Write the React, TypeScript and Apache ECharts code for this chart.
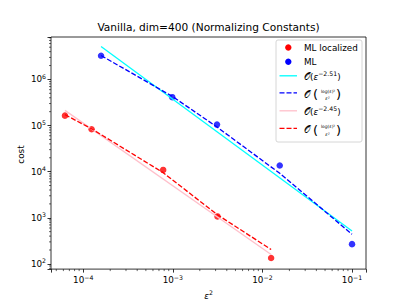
import React, { useEffect, useRef } from "react";
import * as echarts from "echarts";

// ---- data ----
const mlLocX = [6.25e-5, 1.24e-4, 7.8e-4, 3.15e-3, 1.25e-2];
const mlLocY = [1.64e5, 8.3e4, 1.09e4, 1.07e3, 134];
const mlX = [1.58e-4, 9.85e-4, 3.11e-3, 1.56e-2, 0.1];
const mlY = [3.27e6, 4.12e5, 1.05e5, 1.36e4, 268];

const fitMlX = [1.58e-4, 0.1];
const fitMlY = [5.16e6, 519];
const logFitMlY = [3.3e6, 4.3e5, 9.3e4, 9.2e3, 440];

const fitLocX = [6.25e-5, 1.25e-2];
const fitLocY = [2.13e5, 160];
const logFitLocY = [1.72e5, 8.5e4, 9.5e3, 1.16e3, 205];

const xMinor = [5e-5, 6e-5, 7e-5, 8e-5, 9e-5,
  2e-4, 3e-4, 4e-4, 5e-4, 6e-4, 7e-4, 8e-4, 9e-4,
  2e-3, 3e-3, 4e-3, 5e-3, 6e-3, 7e-3, 8e-3, 9e-3,
  2e-2, 3e-2, 4e-2, 5e-2, 6e-2, 7e-2, 8e-2, 9e-2];
const yMinor = [80, 90,
  200, 300, 400, 500, 600, 700, 800, 900,
  2e3, 3e3, 4e3, 5e3, 6e3, 7e3, 8e3, 9e3,
  2e4, 3e4, 4e4, 5e4, 6e4, 7e4, 8e4, 9e4,
  2e5, 3e5, 4e5, 5e5, 6e5, 7e5, 8e5, 9e5,
  2e6, 3e6, 4e6, 5e6, 6e6, 7e6, 8e6];

const X_MIN = Math.pow(10, -4.36);
const X_MAX = Math.pow(10, -0.844);
const Y_MIN = Math.pow(10, 1.887);
const Y_MAX = Math.pow(10, 6.92);

const FONT = "DejaVu Sans";
const LW = 1.32;
const DASH = [5, 2];

const zip = (xs: number[], ys: number[]) => xs.map((x, i) => [x, ys[i]]);

const powLabel = (v: number) => {
  const l = Math.log10(v);
  const e = Math.round(l);
  if (Math.abs(l - e) > 0.01) return "";
  return `{b|10}{s|${e < 0 ? "\u2212" : ""}${Math.abs(e)}}`;
};

const labelRich = {
  b: { fontSize: 8.8, fontFamily: FONT, color: "#000" },
  s: { fontSize: 6.2, fontFamily: FONT, color: "#000", padding: [0, 0, 6, 0] },
};

export default function App() {
  const ref = useRef<HTMLDivElement>(null);
  useEffect(() => {
    if (!ref.current) return;
    const chart = echarts.init(ref.current, null, { renderer: "svg" });

    const legendTop = 40;
    const hx1 = 279.5, hx2 = 297, tx = 304;
    const rowY = [47.5, 61.7, 75.8, 92.8, 110.8, 128.4];

    const powText = (y: number, exp: string) => ({
      type: "text",
      x: tx,
      y: y + 0.8,
      style: {
        text: `{o|\u{1D4AA}}{n|(}{e|\u03B5}{s|${exp}}{n|)}`,
        verticalAlign: "middle",
        rich: {
          o: { fontSize: 10, fontFamily: FONT },
          n: { fontSize: 8.8, fontFamily: FONT },
          e: { fontSize: 8.8, fontFamily: FONT, fontStyle: "italic" },
          s: { fontSize: 6.2, fontFamily: FONT, padding: [0, 0, 6, 0] },
        },
      },
    });
    const fracText = (y: number) => ({
      type: "group",
      children: [
        { type: "text", x: tx, y: y + 1.5, style: { text: "\u{1D4AA}", fontSize: 10, fontFamily: FONT, verticalAlign: "middle" } },
        { type: "text", x: 313, y: y + 1.7, style: { text: "(", fontSize: 13, fontFamily: FONT, verticalAlign: "middle" } },
        { type: "text", x: 328, y: y - 1.8, style: { text: "log(\u03B5)\u00B2", fontSize: 4.4, fontFamily: FONT, align: "center", verticalAlign: "middle" } },
        { type: "text", x: 327.5, y: y + 5.8, style: { text: "\u03B5\u00B2", fontSize: 4.6, fontFamily: FONT, fontStyle: "italic", align: "center", verticalAlign: "middle" } },
        { type: "text", x: 336, y: y + 1.7, style: { text: ")", fontSize: 13, fontFamily: FONT, verticalAlign: "middle" } },
      ],
    });
    const handle = (y: number, color: string, dashed: boolean) => ({
      type: "line",
      shape: { x1: hx1, y1: y, x2: hx2, y2: y },
      style: { stroke: color, lineWidth: LW, lineDash: dashed ? DASH : null },
    });

    const tickSeries = (axis: "x" | "y", vals: number[]) => ({
      type: "custom",
      silent: true,
      z: 1,
      data: vals.map((v) => (axis === "x" ? [v, 1000] : [1e-3, v])),
      renderItem: (params: any, api: any) => {
        const cs = params.coordSys;
        const p = api.coord([api.value(0), api.value(1)]);
        if (axis === "x") {
          const yb = cs.y + cs.height;
          return { type: "line", shape: { x1: p[0], y1: yb, x2: p[0], y2: yb + 2 }, style: { stroke: "#000", lineWidth: 0.6 } };
        }
        return { type: "line", shape: { x1: cs.x, y1: p[1], x2: cs.x - 2, y2: p[1] }, style: { stroke: "#000", lineWidth: 0.6 } };
      },
    });

    chart.setOption({
      animation: false,
      backgroundColor: "#fff",
      title: {
        text: "Vanilla, dim=400 (Normalizing Constants)",
        left: 208.5,
        top: 21,
        padding: 0,
        textAlign: "center",
        textStyle: { fontFamily: FONT, fontSize: 10.6, fontWeight: "normal", color: "#000" },
      },
      grid: { left: 51, right: 41, top: 37, bottom: 33, show: true, borderColor: "#000", borderWidth: 0.8, backgroundColor: "transparent" },
      xAxis: {
        type: "log",
        logBase: 10,
        min: X_MIN,
        max: X_MAX,
        splitLine: { show: false },
        axisLine: { show: false },
        axisTick: { show: true, length: 3.5, lineStyle: { color: "#000", width: 0.8 } },
        axisLabel: { formatter: powLabel, rich: labelRich, margin: 5, showMinLabel: true, showMaxLabel: true },
        name: "{e|\u03B5}{s|2}",
        nameLocation: "middle",
        nameGap: 20,
        nameTextStyle: {
          verticalAlign: "middle",
          rich: {
            e: { fontSize: 8.8, fontFamily: FONT, fontStyle: "italic", color: "#000" },
            s: { fontSize: 6.2, fontFamily: FONT, color: "#000", padding: [0, 0, 6, 0] },
          },
        },
      },
      yAxis: {
        type: "log",
        logBase: 10,
        min: Y_MIN,
        max: Y_MAX,
        splitLine: { show: false },
        axisLine: { show: false },
        axisTick: { show: true, length: 3.5, lineStyle: { color: "#000", width: 0.8 } },
        axisLabel: { formatter: powLabel, rich: labelRich, margin: 5 },
      },
      series: [
        tickSeries("x", xMinor),
        tickSeries("y", yMinor),
        { name: "ML localized", type: "scatter", data: zip(mlLocX, mlLocY), symbolSize: 6.5, itemStyle: { color: "#ff0000" }, z: 2 },
        { name: "ML", type: "scatter", data: zip(mlX, mlY), symbolSize: 6.5, itemStyle: { color: "#0000ff" }, z: 2 },
        { type: "line", data: zip(fitMlX, fitMlY), showSymbol: false, symbol: "none", lineStyle: { color: "#00ffff", width: LW }, z: 3 },
        { type: "line", data: zip(mlX, logFitMlY), showSymbol: false, symbol: "none", lineStyle: { color: "#0000ff", width: LW, type: DASH }, z: 3 },
        { type: "line", data: zip(fitLocX, fitLocY), showSymbol: false, symbol: "none", lineStyle: { color: "#ffc0cb", width: LW }, z: 3 },
        { type: "line", data: zip(mlLocX, logFitLocY), showSymbol: false, symbol: "none", lineStyle: { color: "#ff0000", width: LW, type: DASH }, z: 3 },
      ],
      graphic: [
        {
          type: "text",
          x: 21,
          y: 154.5,
          rotation: Math.PI / 2,
          style: { text: "cost", fontSize: 8.8, fontFamily: FONT, fill: "#000", align: "center", verticalAlign: "middle" },
        },
        {
          type: "group",
          z: 100,
          children: [
            { type: "rect", shape: { x: 276, y: legendTop, width: 86, height: 102, r: 2 }, style: { fill: "rgba(255,255,255,0.8)", stroke: "#cccccc", lineWidth: 0.8 } },
            { type: "circle", shape: { cx: 288.3, cy: rowY[0], r: 3.2 }, style: { fill: "#ff0000" } },
            { type: "text", x: tx, y: rowY[0], style: { text: "ML localized", fontSize: 8.8, fontFamily: FONT, verticalAlign: "middle", fill: "#000" } },
            { type: "circle", shape: { cx: 288.3, cy: rowY[1], r: 3.2 }, style: { fill: "#0000ff" } },
            { type: "text", x: tx, y: rowY[1], style: { text: "ML", fontSize: 8.8, fontFamily: FONT, verticalAlign: "middle", fill: "#000" } },
            handle(rowY[2], "#00ffff", false),
            powText(rowY[2], "\u22122.51"),
            handle(rowY[3], "#0000ff", true),
            fracText(rowY[3]),
            handle(rowY[4], "#ffc0cb", false),
            powText(rowY[4], "\u22122.45"),
            handle(rowY[5], "#ff0000", true),
            fracText(rowY[5]),
          ],
        },
      ],
    });
    return () => chart.dispose();
  }, []);
  return <div ref={ref} style={{ width: 407, height: 305, position: "absolute", left: 0, top: 0 }} />;
}
